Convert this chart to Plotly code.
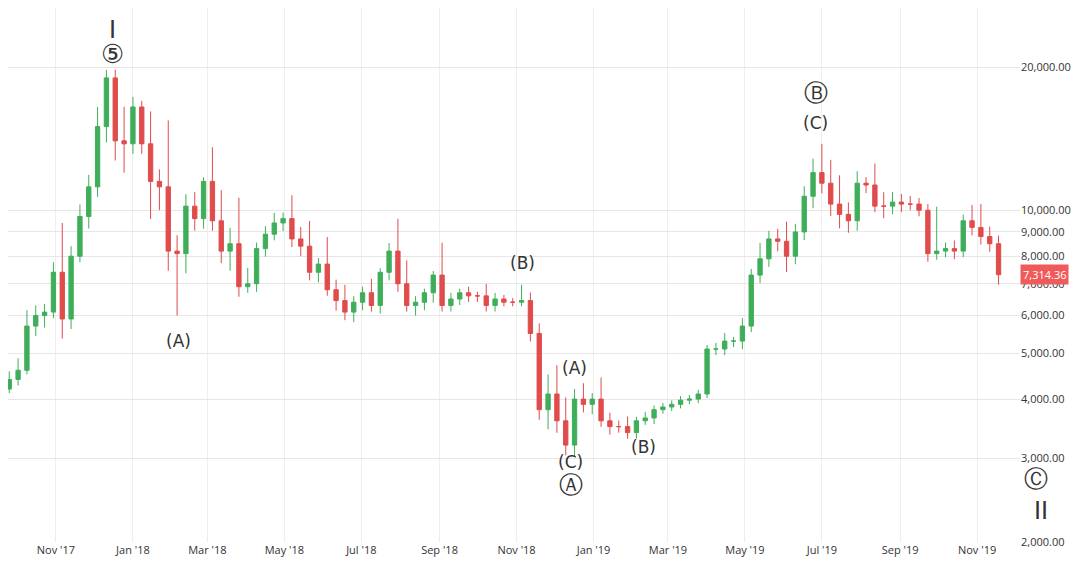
import plotly.graph_objects as go
import pandas as pd
import math

start = "2017-09-25"
close = [4400,4600,5700,6000,6100,7400,5900,8000,9700,11200,15000,19000,14000,13800,
         16500,13800,11500,11200,8200,8100,10200,9600,11500,9500,8200,8500,6900,7000,8300,8900,9400,9600,
         8700,8400,7400,7700,6800,6450,6100,6400,6700,6300,7400,8200,7000,6300,6400,6700,7300,6300,6500,
         6700,6600,6600,6300,6500,6400,6400,6450,5500,3800,4100,3600,3200,4000,3900,4000,
         3600,3500,3500,3400,3600,3650,3800,3850,3900,3980,4000,4100,5100,5100,5300,5300,5700,7300,7900,
         8700,8600,8000,9000,10700,12000,11400,10300,9800,9500,11400,11300,10200,10200,10400,10300,10300,
         10000,8100,8200,8300,8200,9500,9200,8800,8500,7314.36]
first_open = 4200
high_extra = [1.04,1.06,1.08,1.05,1.04,1.05,1.27,1.05,1.06,1.06,1.10,1.04,1.04,1.18,
              1.05,1.03,1.17,1.06,1.38,1.08,1.06,1.07,1.02,1.18,1.16,1.08,1.25,1.08,1.03,1.04,1.05,1.03,
              1.12,1.06,1.13,1.03,1.14,1.05,1.08,1.03,1.03,1.07,1.02,1.04,1.17,1.12,1.03,1.02,1.02,1.17,1.03,
              1.02,1.03,1.02,1.06,1.03,1.02,1.02,1.08,1.04,1.05,1.10,1.15,1.12,1.05,1.08,1.03,
              1.11,1.04,1.03,1.05,1.02,1.03,1.02,1.02,1.02,1.02,1.02,1.02,1.02,1.03,1.04,1.02,1.04,1.03,1.08,
              1.04,1.05,1.10,1.04,1.05,1.07,1.15,1.12,1.15,1.06,1.06,1.03,1.11,1.07,1.05,1.04,1.04,1.03,
              1.03,1.24,1.03,1.04,1.03,1.08,1.12,1.05,1.04,1.16]
low_extra = [1.02,1.03,1.02,1.05,1.06,1.03,1.10,1.05,1.03,1.06,1.05,1.08,1.10,1.15,
             1.05,1.05,1.20,1.12,1.10,1.35,1.10,1.06,1.05,1.05,1.06,1.10,1.05,1.03,1.04,1.04,1.03,1.04,
             1.04,1.05,1.04,1.05,1.03,1.05,1.04,1.05,1.04,1.03,1.04,1.04,1.04,1.03,1.05,1.04,1.05,1.03,1.03,
             1.03,1.03,1.03,1.03,1.03,1.02,1.02,1.02,1.04,1.05,1.10,1.06,1.05,1.06,1.04,1.05,
             1.03,1.04,1.03,1.03,1.03,1.02,1.03,1.02,1.02,1.02,1.02,1.02,1.02,1.03,1.03,1.03,1.04,1.03,1.04,
             1.04,1.05,1.08,1.04,1.04,1.06,1.05,1.06,1.07,1.06,1.05,1.04,1.03,1.06,1.04,1.04,1.03,1.03,
             1.04,1.03,1.03,1.04,1.03,1.04,1.04,1.04,1.05,1.06]

dates = pd.date_range(start, periods=len(close), freq="7D")
opens = [first_open] + close[:-1]
highs = [max(o, c) * h for o, c, h in zip(opens, close, high_extra)]
lows = [min(o, c) / l for o, c, l in zip(opens, close, low_extra)]

fig = go.Figure(go.Candlestick(
    x=dates, open=opens, high=highs, low=lows, close=close,
    increasing=dict(line=dict(color="#3fae5a", width=1), fillcolor="#3fae5a"),
    decreasing=dict(line=dict(color="#e04b4b", width=1), fillcolor="#e04b4b"),
    whiskerwidth=0, showlegend=False))

annots = [("2017-12-16", 24000, "I", 24), ("2017-12-16", 21300, "⑤", 26),
          ("2018-02-06", 5300, "(A)", 17), ("2018-11-06", 7750, "(B)", 17),
          ("2018-12-17", 4650, "(A)", 17), ("2018-12-14", 2950, "(C)", 17),
          ("2018-12-14", 2640, "Ⓐ", 24), ("2019-02-10", 3170, "(B)", 17),
          ("2019-06-26", 17700, "Ⓑ", 24), ("2019-06-26", 15300, "(C)", 17)]
for d, y, t, s in annots:
    fig.add_annotation(x=d, y=math.log10(y), text=t, showarrow=False, yanchor="middle",
                       font=dict(size=s, color="#333", family="DejaVu Sans"))
for y, t in [(2720, "Ⓒ"), (2330, "II")]:
    fig.add_annotation(x=1.03, xref="paper", y=math.log10(y), text=t, showarrow=False,
                       font=dict(size=24, color="#333", family="DejaVu Sans"))

fig.add_annotation(x=1, xref="paper", y=math.log10(close[-1]), xanchor="left",
                   text=f"{close[-1]:,.2f}", showarrow=False,
                   bgcolor="#f05a5a", font=dict(color="white", size=11), borderpad=2)

tickvals = [2000, 3000, 4000, 5000, 6000, 7000, 8000, 9000, 10000, 20000]
ticktext = [f"{v:,.2f}" for v in tickvals]
fig.update_layout(
    width=1080, height=577, margin=dict(l=0, r=68, t=0, b=43),
    plot_bgcolor="white", paper_bgcolor="white",
    font=dict(family="Open Sans", size=11, color="#333"),
    xaxis=dict(rangeslider=dict(visible=False), range=["2017-09-24", "2019-12-05"],
               tickformat="%b '%y", dtick="M2", tick0="2017-11-01",
               showgrid=True, gridcolor="#eee", ticks="", showline=False),
    yaxis=dict(type="log", side="right", range=[3.301, 4.426], tickvals=tickvals,
               ticktext=ticktext, showgrid=True, gridcolor="#e6e6e6", zeroline=False))
fig.write_html("out.html")
